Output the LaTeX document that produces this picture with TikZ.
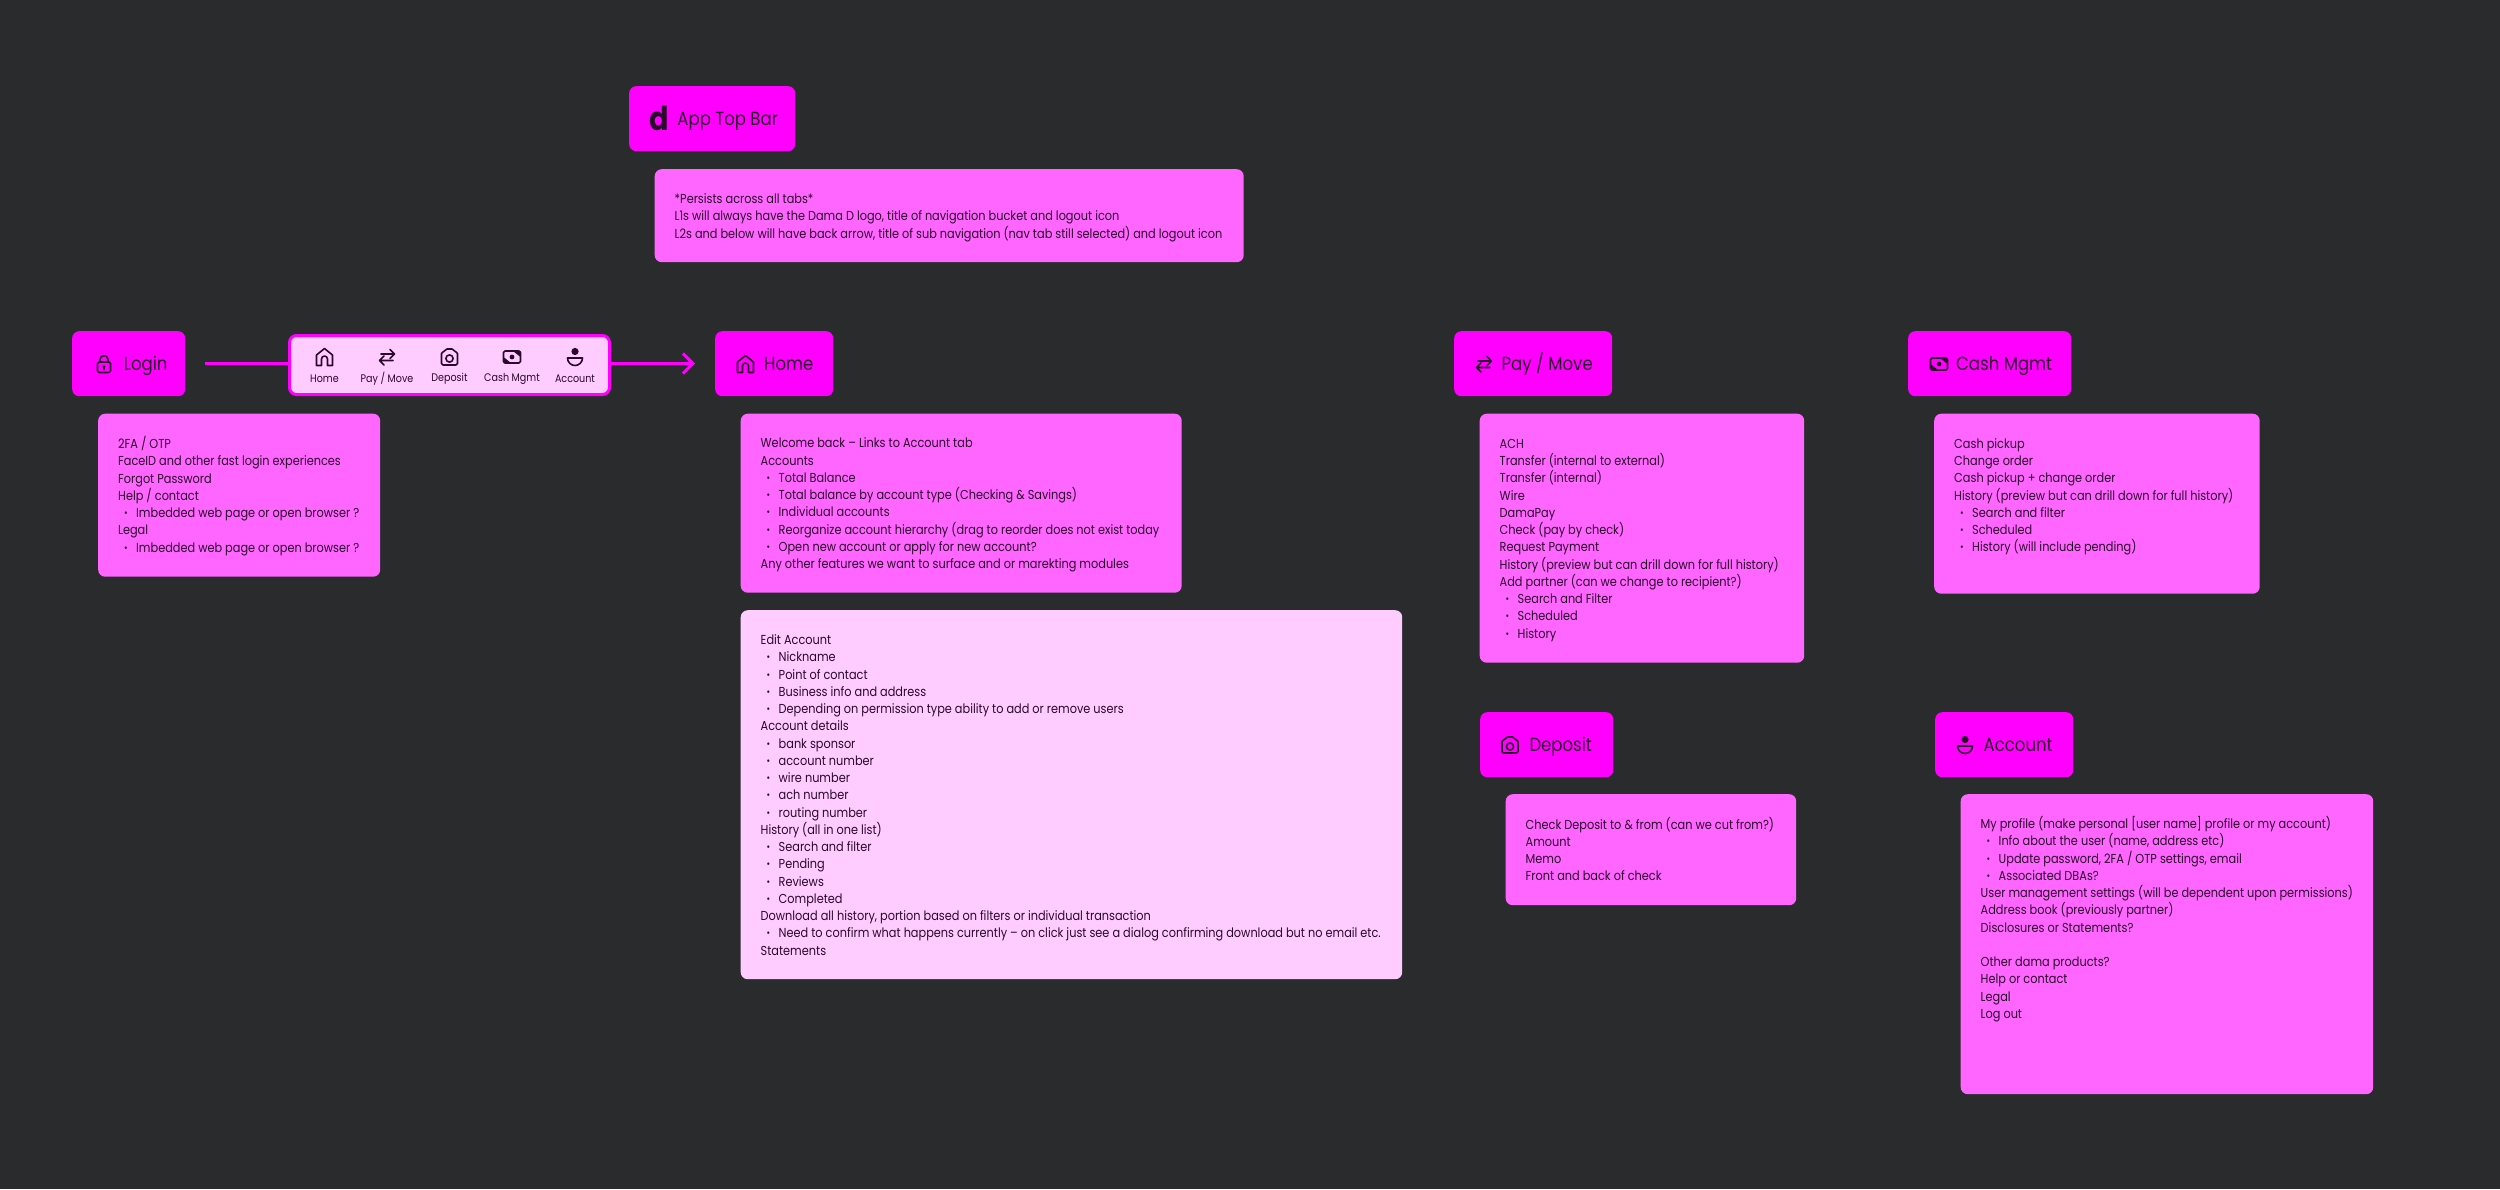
\documentclass[tikz,border=0pt]{standalone}
\usepackage{fontspec}
\setmainfont[FakeStretch=0.87]{Poppins}
\usepackage{xcolor}
\usepackage{tikz}
\usetikzlibrary{positioning,arrows.meta,calc}
\definecolor{canvasbg}{HTML}{2A2B2D}
\definecolor{headfill}{HTML}{FF00FF}
\definecolor{notefill}{HTML}{FF66FF}
\definecolor{palefill}{HTML}{FFCCFF}
\definecolor{inkdark}{HTML}{2A0A2A}
\newcommand{\itm}[1]{\hspace*{6pt}\makebox[12pt][l]{\fontsize{10}{10}\selectfont\raisebox{1pt}{•}}#1}
\tikzset{
headbox/.style={
rounded corners=7pt,
minimum height=65pt,
inner sep=0pt,
text height=17pt,
text depth=4pt,
fill=headfill,
text=inkdark,
font=\fontsize{19}{22}\selectfont
},
notebox/.style 2 args={
anchor=north west,
rounded corners=7pt,
minimum width=#1pt,
minimum height=#2pt,
text width=#1pt-40pt,
inner xsep=20pt,
inner ysep=5pt,
fill=notefill,
text=inkdark,
align=left,
execute at begin node={\rightskip=-40pt\relax\spaceskip=\fontdimen2\font\relax\frenchspacing\rule{0pt}{15.5pt}},
execute at end node=\strut,
font=\fontsize{13}{17.25}\selectfont
},
navbar/.style={
rounded corners=7pt,
draw=headfill,
line width=3pt,
fill=palefill,
minimum width=320pt,
minimum height=59pt
},
navlabel/.style={
inner sep=0pt,
text=inkdark,
font=\fontsize{11}{12}\selectfont
},
arrow/.style={
draw=headfill,
line width=3pt
},
iconline/.style={
draw=inkdark,
line width=1.6pt,
line join=round,
line cap=round
},
pics/homeicon/.style={code={
\draw[iconline] (-8,8.5) -- (-8,-2) -- (0,-8.5) -- (8,-2) -- (8,8.5) -- (3,8.5) -- (3,2)
arc[start angle=0,end angle=-180,radius=3] -- (-3,8.5) -- cycle;
}},
pics/swapicon/.style={code={
\draw[iconline] (-6,-3) -- (7,-3) (3,-7.5) -- (7.5,-3) -- (3,1.5);
\draw[iconline] (6,3.5) -- (-7,3.5) (-3,-1) -- (-7.5,3.5) -- (-3,8);
}},
pics/cameraicon/.style={code={
\draw[iconline,rounded corners=1.5pt] (-8,-5) -- (-5,-5) -- (-4,-8) -- (4,-8) -- (5,-5) -- (8,-5) -- (8,8) -- (-8,8) -- cycle;
\draw[iconline] (0,1.5) circle[radius=3.6];
}},
pics/cashicon/.style={code={
\draw[iconline,rounded corners=1.5pt] (-8.5,-6) rectangle (8.5,6);
\fill[inkdark] (8.5,-6) -- (1,-6) -- (8.5,0) -- cycle;
\fill[inkdark] (-8.5,6) -- (-1,6) -- (-8.5,0) -- cycle;
\fill[inkdark] (0,0) circle[radius=2.4];
}},
pics/personicon/.style={code={
\fill[inkdark] (0,-5.5) circle[radius=3.6];
\draw[iconline] (-7.5,1) -- (7.5,1) arc[start angle=0,end angle=180,radius=7.5];
}},
pics/lockicon/.style={code={
\draw[iconline,rounded corners=1.5pt] (-6.5,-2) rectangle (6.5,8.5);
\draw[iconline] (-4,-2) -- (-4,-4.5) arc[start angle=180,end angle=360,radius=4] -- (4,-2);
\fill[inkdark] (0,2.5) circle[radius=1.6];
\draw[iconline] (0,2.5) -- (0,5.5);
}}
}
\begin{document}
\begin{tikzpicture}[x=1pt,y=-1pt]
\useasboundingbox[fill=canvasbg] (0,0) rectangle (2500,1189);

% headers
\node[headbox,anchor=north west,minimum width=166pt] (topbar) at (629,86) {\hspace*{31pt}App Top Bar};
\node[headbox,anchor=north west,minimum width=113pt] (login) at (72,331) {\hspace*{34pt}Login};
\node[headbox,anchor=north west,minimum width=118pt] (home) at (715,331) {\hspace*{29pt}Home};
\node[headbox,anchor=north west,minimum width=158pt] (pay) at (1454,331) {\hspace*{28pt}Pay / Move};
\node[headbox,anchor=north west,minimum width=163pt] (cash) at (1908,331) {\hspace*{29pt}Cash Mgmt};
\node[headbox,anchor=north west,minimum width=133pt] (deposit) at (1480,712) {\hspace*{28pt}Deposit};
\node[headbox,anchor=north west,minimum width=138pt] (account) at (1935,712) {\hspace*{28pt}Account};

% header logo and icons
\node[anchor=center,inner sep=0pt,text=inkdark,font=\fontsize{33}{33}\selectfont\bfseries] (dlogo) at (659,118) {d};
\pic at (104,364) {lockicon};
\pic at (745.5,364) {homeicon};
\pic at (1484,364) {swapicon};
\pic at (1939,364) {cashicon};
\pic at (1510,745) {cameraicon};
\pic at (1965,745) {personicon};

% nav bar
\node[navbar,anchor=north west] (nav) at (288,334) {};
\node[navlabel] (navhome) at (324.5,378.5) {Home};
\node[navlabel] (navpay) at (387,378.5) {Pay / Move};
\node[navlabel] (navdeposit) at (449.5,378.5) {Deposit};
\node[navlabel] (navcash) at (512,378.5) {Cash Mgmt};
\node[navlabel] (navaccount) at (575,378.5) {Account};
\pic at (324.5,357) {homeicon};
\pic at (387,357) {swapicon};
\pic at (449.5,357) {cameraicon};
\pic at (512,357) {cashicon};
\pic at (575,357) {personicon};

% connectors
\coordinate (flowstart) at (205,363.5);
\coordinate (flowend) at (695,363.5);
\draw[arrow] (flowstart) -- (flowstart-|nav.west);
\draw[arrow,-{Straight Barb[length=10pt,width=20pt,line width=3pt]}] (flowstart-|nav.east) -- (flowend);

% notes
\node[notebox={589}{93}] (topnote) at (654.5,169) {*Persists across all tabs*\\
L1s will always have the Dama D logo, title of navigation bucket and logout icon\\
L2s and below will have back arrow, title of sub navigation (nav tab still selected) and logout icon};

\node[notebox={282}{163}] (loginnote) at (98,413.5) {2FA / OTP\\
FaceID and other fast login experiences\\
Forgot Password\\
Help / contact\\
\itm{Imbedded web page or open browser ?}\\
Legal\\
\itm{Imbedded web page or open browser ?}};

\node[notebox={441}{179}] (homenote) at (740.5,413.5) {Welcome back – Links to Account tab\\
Accounts\\
\itm{Total Balance}\\
\itm{Total balance by account type (Checking \& Savings)}\\
\itm{Individual accounts}\\
\itm{Reorganize account hierarchy (drag to reorder does not exist today}\\
\itm{Open new account or apply for new account?}\\
Any other features we want to surface and or marekting modules};

\node[notebox={661.5}{369},fill=palefill] (editnote) at (740.5,610) {Edit Account\\
\itm{Nickname}\\
\itm{Point of contact}\\
\itm{Business info and address}\\
\itm{Depending on permission type ability to add or remove users}\\
Account details\\
\itm{bank sponsor}\\
\itm{account number}\\
\itm{wire number}\\
\itm{ach number}\\
\itm{routing number}\\
History (all in one list)\\
\itm{Search and filter}\\
\itm{Pending}\\
\itm{Reviews}\\
\itm{Completed}\\
Download all history, portion based on filters or individual transaction\\
\itm{Need to confirm what happens currently – on click just see a dialog confirming download but no email etc.}\\
Statements};

\node[notebox={324.5}{249}] (paynote) at (1479.5,413.5) {ACH\\
Transfer (internal to external)\\
Transfer (internal)\\
Wire\\
DamaPay\\
Check (pay by check)\\
Request Payment\\
History (preview but can drill down for full history)\\
Add partner (can we change to recipient?)\\
\itm{Search and Filter}\\
\itm{Scheduled}\\
\itm{History}};

\node[notebox={325.5}{180}] (cashnote) at (1934,413.5) {Cash pickup\\
Change order\\
Cash pickup + change order\\
History (preview but can drill down for full history)\\
\itm{Search and filter}\\
\itm{Scheduled}\\
\itm{History (will include pending)}\\
~};

\node[notebox={290.5}{111}] (depositnote) at (1505.5,794) {Check Deposit to \& from (can we cut from?)\\
Amount\\
Memo\\
Front and back of check};

\node[notebox={412.5}{300}] (accountnote) at (1960.5,794) {My profile (make personal [user name] profile or my account)\\
\itm{Info about the user (name, address etc)}\\
\itm{Update password, 2FA / OTP settings, email}\\
\itm{Associated DBAs?}\\
User management settings (will be dependent upon permissions)\\
Address book (previously partner)\\
Disclosures or Statements?\\
~\\
Other dama products?\\
Help or contact\\
Legal\\
Log out\\
~\\
~\\
~};
\end{tikzpicture}
\end{document}
